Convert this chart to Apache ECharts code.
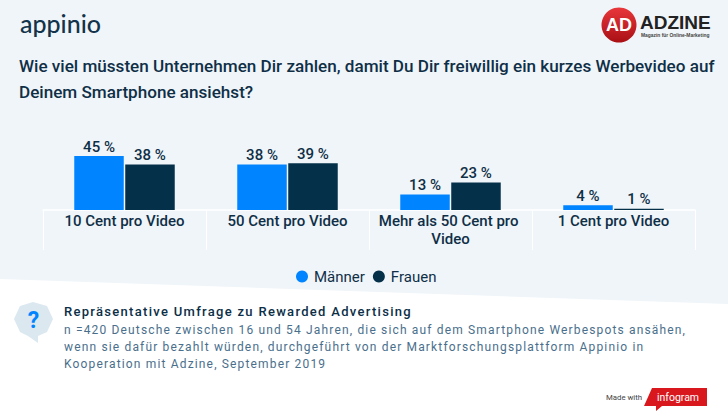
<!DOCTYPE html>
<html><head><meta charset="utf-8">
<style>
html,body{margin:0;padding:0;background:#f0f5f9}
#c{width:728px;height:419px}
svg text[fill="#4a6f8c"]{letter-spacing:1.16px}
svg text[fill="#0c2f47"]{letter-spacing:1.3px}
</style>
<script src="https://cdn.jsdelivr.net/npm/echarts@6/dist/echarts.min.js"></script>
</head><body><div id="c"></div>
<script>
const categories = ['10 Cent pro Video','50 Cent pro Video','Mehr als 50 Cent pro Video','1 Cent pro Video'];
const maenner = [45,38,13,4];
const frauen = [38,39,23,1];
const seriesNames = ['Männer','Frauen'];
const titleText = 'Wie viel müssten Unternehmen Dir zahlen, damit Du Dir freiwillig ein kurzes Werbevideo auf\nDeinem Smartphone ansiehst?';
const noteHead = 'Repräsentative Umfrage zu Rewarded Advertising';
const noteLines = [
 'n =420 Deutsche zwischen 16 und 54 Jahren, die sich auf dem Smartphone Werbespots ansähen,',
 'wenn sie dafür bezahlt würden, durchgeführt von der Marktforschungsplattform Appinio in',
 'Kooperation mit Adzine, September 2019'];
const dark='#05304a', blue='#0084ff', ink='#0f2f47';
const font='Roboto';
const chart = echarts.init(document.getElementById('c'),null,{renderer:'svg'});
const bar=(name,data,color)=>({name,type:'bar',data,barWidth:49.5,barGap:'3%',
 itemStyle:{color},
 label:{show:true,position:'top',distance:2,formatter:p=>p.value+' %',color:ink,fontFamily:font,fontWeight:500,fontSize:15}});
chart.setOption({
 animation:false,
 backgroundColor:'#f0f5f9',
 title:{text:titleText,left:14,top:48,textStyle:{fontFamily:font,fontWeight:500,fontSize:17.1,color:ink,lineHeight:26}},
 grid:{left:43,right:33,top:150,bottom:209},
 legend:{data:seriesNames,left:291,top:264,itemWidth:12,itemHeight:12,icon:'circle',itemGap:8,
   textStyle:{fontFamily:font,fontSize:15,fontWeight:400,color:ink,padding:[0,0,0,1]}},
 xAxis:{type:'category',data:categories,
   axisLine:{show:true,lineStyle:{color:'#ffffff',width:1.5}},
   axisTick:{show:true,length:40,lineStyle:{color:'#ffffff',width:1},alignWithLabel:false},
   axisLabel:{interval:0,margin:2,width:155,overflow:'break',lineHeight:18,fontFamily:font,fontWeight:500,fontSize:15,color:ink}},
 yAxis:{type:'value',min:0,max:50,show:false,splitLine:{show:false}},
 series:[bar(seriesNames[0],maenner,blue),bar(seriesNames[1],frauen,dark)],
 graphic:[
  {type:'polygon',z:-1,shape:{points:[[0,279],[728,304],[728,419],[0,419]]},style:{fill:'#ffffff'}},
  {type:'text',x:20,y:10,style:{text:'appinio',fontFamily:'Lato',fontWeight:500,fontSize:25,fill:'#123349'}},
  {type:'circle',shape:{cx:619,cy:25,r:17.5},style:{fill:new echarts.graphic.LinearGradient(0,0,0,1,[{offset:0,color:'#e8383c'},{offset:1,color:'#a90f14'}])}},
  {type:'text',x:619,y:25,style:{text:'AD',align:'center',verticalAlign:'middle',fontFamily:'Liberation Sans',fontWeight:'bold',fontSize:18,fill:'#ffffff'}},
  {type:'text',x:640,y:13,style:{text:'ADZINE',fontFamily:'Liberation Sans',fontWeight:'bold',fontSize:19,fill:'#222222'}},
  {type:'text',x:641,y:33,style:{text:'Magazin für Online-Marketing',fontFamily:'Liberation Sans',fontWeight:'bold',fontSize:4.9,fill:'#444444'}},
  {type:'polygon',shape:{points:[[14,319],[20,306],[33,302],[47,306],[53,319],[47,332],[38,336],[38,343],[28,336],[20,332]]},style:{fill:'#dce8f0'}},
  {type:'text',x:33.5,y:320,style:{text:'?',align:'center',verticalAlign:'middle',fontFamily:font,fontWeight:'bold',fontSize:23,fill:blue}},
  {type:'text',x:64,y:305,style:{text:noteHead,fontFamily:font,fontWeight:500,fontSize:13,fill:'#0c2f47'}},
  {type:'text',x:64,y:324,style:{text:noteLines[0],fontFamily:font,fontWeight:400,fontSize:12,fill:'#4a6f8c'}},
  {type:'text',x:64,y:341,style:{text:noteLines[1],fontFamily:font,fontWeight:400,fontSize:12,fill:'#4a6f8c'}},
  {type:'text',x:64,y:358,style:{text:noteLines[2],fontFamily:font,fontWeight:400,fontSize:12,fill:'#4a6f8c'}},
  {type:'text',x:606,y:393,style:{text:'Made with',fontFamily:font,fontSize:7.8,fill:'#444444'}},
  {type:'polygon',shape:{points:[[652,388],[707,388],[707,406],[662,406],[656,411],[656,406],[644,406]]},style:{fill:'#d9181e'}},
  {type:'text',x:678,y:397,style:{text:'infogram',align:'center',verticalAlign:'middle',fontFamily:'Roboto',fontSize:10.5,fill:'#ffffff'}}
 ]
});
</script></body></html>
